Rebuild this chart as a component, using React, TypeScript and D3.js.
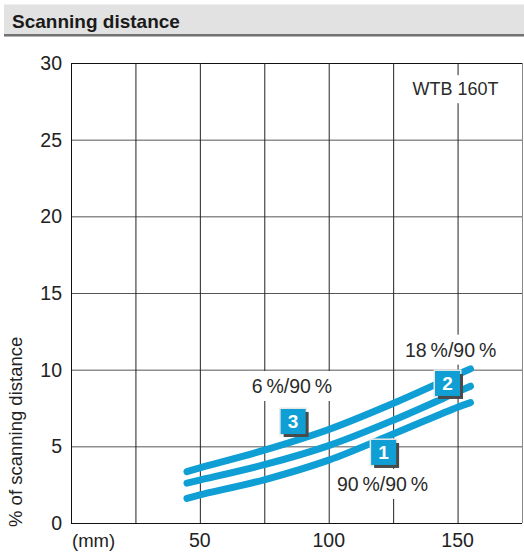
import React, { useEffect, useRef } from 'react';
import * as d3 from 'd3';

// distance in mm (x) and % of scanning distance (y) for each curve
const distances = [45, 50, 75, 100, 125, 150, 155];
const curve90 = [1.6, 1.83, 2.82, 4.1, 5.8, 7.55, 7.85];
const curve18 = [2.6, 2.8, 3.8, 5.05, 6.7, 8.55, 8.92];
const curve6 = [3.35, 3.6, 4.75, 6.1, 7.8, 9.68, 10.05];

const yTicks = [0, 5, 10, 15, 20, 25, 30];
const xGrid = [25, 50, 75, 100, 125, 150];
const xLabels = [50, 100, 150];

// numbered markers and text notes, in data units
const markers = [
  { n: '1', x: 121.3, y: 4.6 },
  { n: '2', x: 146.1, y: 9.1 },
  { n: '3', x: 86.2, y: 6.62 },
];
const notes = [
  { text: '6\u2009%/90\u2009%', x: 85.7, y: 8.48, size: 19.5 },
  { text: '18\u2009%/90\u2009%', x: 147.3, y: 10.85, size: 19.5 },
  { text: '90\u2009%/90\u2009%', x: 120.9, y: 2.09, size: 19.5 },
  { text: 'WTB 160T', x: 149.2, y: 27.9, size: 18 },
];

const BLUE = '#0f9fd4';
const FONT = '"Liberation Sans", Arial, sans-serif';

const App = () => {
  const svgRef = useRef<SVGSVGElement>(null);

  useEffect(() => {
    const svg = d3.select(svgRef.current);
    svg.selectAll('*').remove();

    const left = 71, right = 522, top = 63, bottom = 523;

    const x = d3.scaleLinear().domain([0, 175]).range([left, right]);
    const y = d3.scaleLinear().domain([0, 30]).range([bottom, top]);

    // header band
    svg.append('rect').attr('x', 4).attr('y', 4).attr('width', 520).attr('height', 31).attr('fill', '#e2e2e2');
    svg.append('line').attr('x1', 4).attr('x2', 524).attr('y1', 4.5).attr('y2', 4.5).attr('stroke', '#efefef');
    svg.append('rect').attr('x', 4).attr('y', 34).attr('width', 520).attr('height', 2).attr('fill', '#727272');
    svg.append('rect').attr('x', 4).attr('y', 36).attr('width', 520).attr('height', 1).attr('fill', '#b4b4b4');
    svg.append('text')
      .attr('x', 12).attr('y', 28)
      .attr('font-family', FONT).attr('font-weight', 'bold').attr('font-size', 19)
      .attr('fill', '#1a1a1a')
      .text('Scanning distance');

    // grid
    const grid = svg.append('g');
    grid.selectAll('.h').data(yTicks.filter(d => d > 0)).enter().append('line')
      .attr('x1', left).attr('x2', right)
      .attr('y1', d => y(d) + 0.5).attr('y2', d => y(d) + 0.5)
      .attr('stroke', d => (d === 30 ? '#111' : '#555'));
    grid.selectAll('.v').data(xGrid).enter().append('line')
      .attr('y1', top).attr('y2', bottom)
      .attr('x1', d => x(d) + 0.5).attr('x2', d => x(d) + 0.5)
      .attr('stroke', '#222');
    grid.append('line').attr('x1', right + 0.5).attr('x2', right + 0.5).attr('y1', top).attr('y2', bottom).attr('stroke', '#888');
    grid.append('line').attr('x1', left + 0.5).attr('x2', left + 0.5).attr('y1', top).attr('y2', bottom).attr('stroke', '#111');
    grid.append('line').attr('x1', left).attr('x2', right).attr('y1', bottom + 0.5).attr('y2', bottom + 0.5).attr('stroke', '#111');

    // tick labels
    svg.append('g').selectAll('text').data(yTicks).enter().append('text')
      .attr('x', 62).attr('y', d => y(d)).attr('dy', '0.36em')
      .attr('text-anchor', 'end')
      .attr('font-family', FONT).attr('font-size', 19.5).attr('fill', '#222')
      .text(d => d);
    svg.append('g').selectAll('text').data(xLabels).enter().append('text')
      .attr('x', d => x(d)).attr('y', 547)
      .attr('text-anchor', 'middle')
      .attr('font-family', FONT).attr('font-size', 19.5).attr('fill', '#222')
      .text(d => d);
    svg.append('text')
      .attr('x', 72).attr('y', 547)
      .attr('font-family', FONT).attr('font-size', 18.5).attr('fill', '#222')
      .text('(mm)');
    svg.append('text')
      .attr('transform', 'translate(22,527) rotate(-90)')
      .attr('font-family', FONT).attr('font-size', 18.5).attr('fill', '#222')
      .text('% of scanning distance');

    // notes with white backing
    notes.forEach(n => {
      const g = svg.append('g');
      const bg = g.append('rect').attr('fill', '#fff');
      const t = g.append('text')
        .attr('x', x(n.x)).attr('y', y(n.y))
        .attr('text-anchor', 'middle')
        .attr('font-family', FONT).attr('font-size', n.size).attr('fill', '#2a2a2a')
        .text(n.text);
      const b = (t.node() as SVGTextElement).getBBox();
      bg.attr('x', b.x - 3).attr('y', b.y - 4).attr('width', b.width + 6).attr('height', b.height + 8);
    });

    // curves
    const line = d3.line<number>()
      .x((d, i) => x(distances[i]))
      .y(d => y(d))
      .curve(d3.curveCatmullRom.alpha(0.5));
    [curve90, curve18, curve6].forEach(c => {
      svg.append('path')
        .attr('d', line(c))
        .attr('fill', 'none')
        .attr('stroke', BLUE)
        .attr('stroke-width', 7)
        .attr('stroke-linecap', 'round');
    });

    // numbered markers
    const s = 25;
    markers.forEach(m => {
      const cx = x(m.x), cy = y(m.y);
      const g = svg.append('g');
      g.append('rect').attr('x', cx - s / 2 - 1.5).attr('y', cy - s / 2 - 1.5).attr('width', s + 3).attr('height', s + 3).attr('fill', '#e8e8e8');
      g.append('rect').attr('x', cx - s / 2 + 3).attr('y', cy - s / 2 + 3).attr('width', s).attr('height', s).attr('fill', '#4a4a4a');
      g.append('rect').attr('x', cx - s / 2).attr('y', cy - s / 2).attr('width', s).attr('height', s).attr('fill', BLUE);
      g.append('text')
        .attr('x', cx).attr('y', cy).attr('dy', '0.36em')
        .attr('text-anchor', 'middle')
        .attr('font-family', FONT).attr('font-weight', 'bold').attr('font-size', 19).attr('fill', '#fff')
        .text(m.n);
    });
  }, []);

  return (
    <svg
      ref={svgRef}
      width={524}
      height={553}
      style={{ position: 'absolute', left: 0, top: 0, background: '#fff' }}
    />
  );
};

export default App;
